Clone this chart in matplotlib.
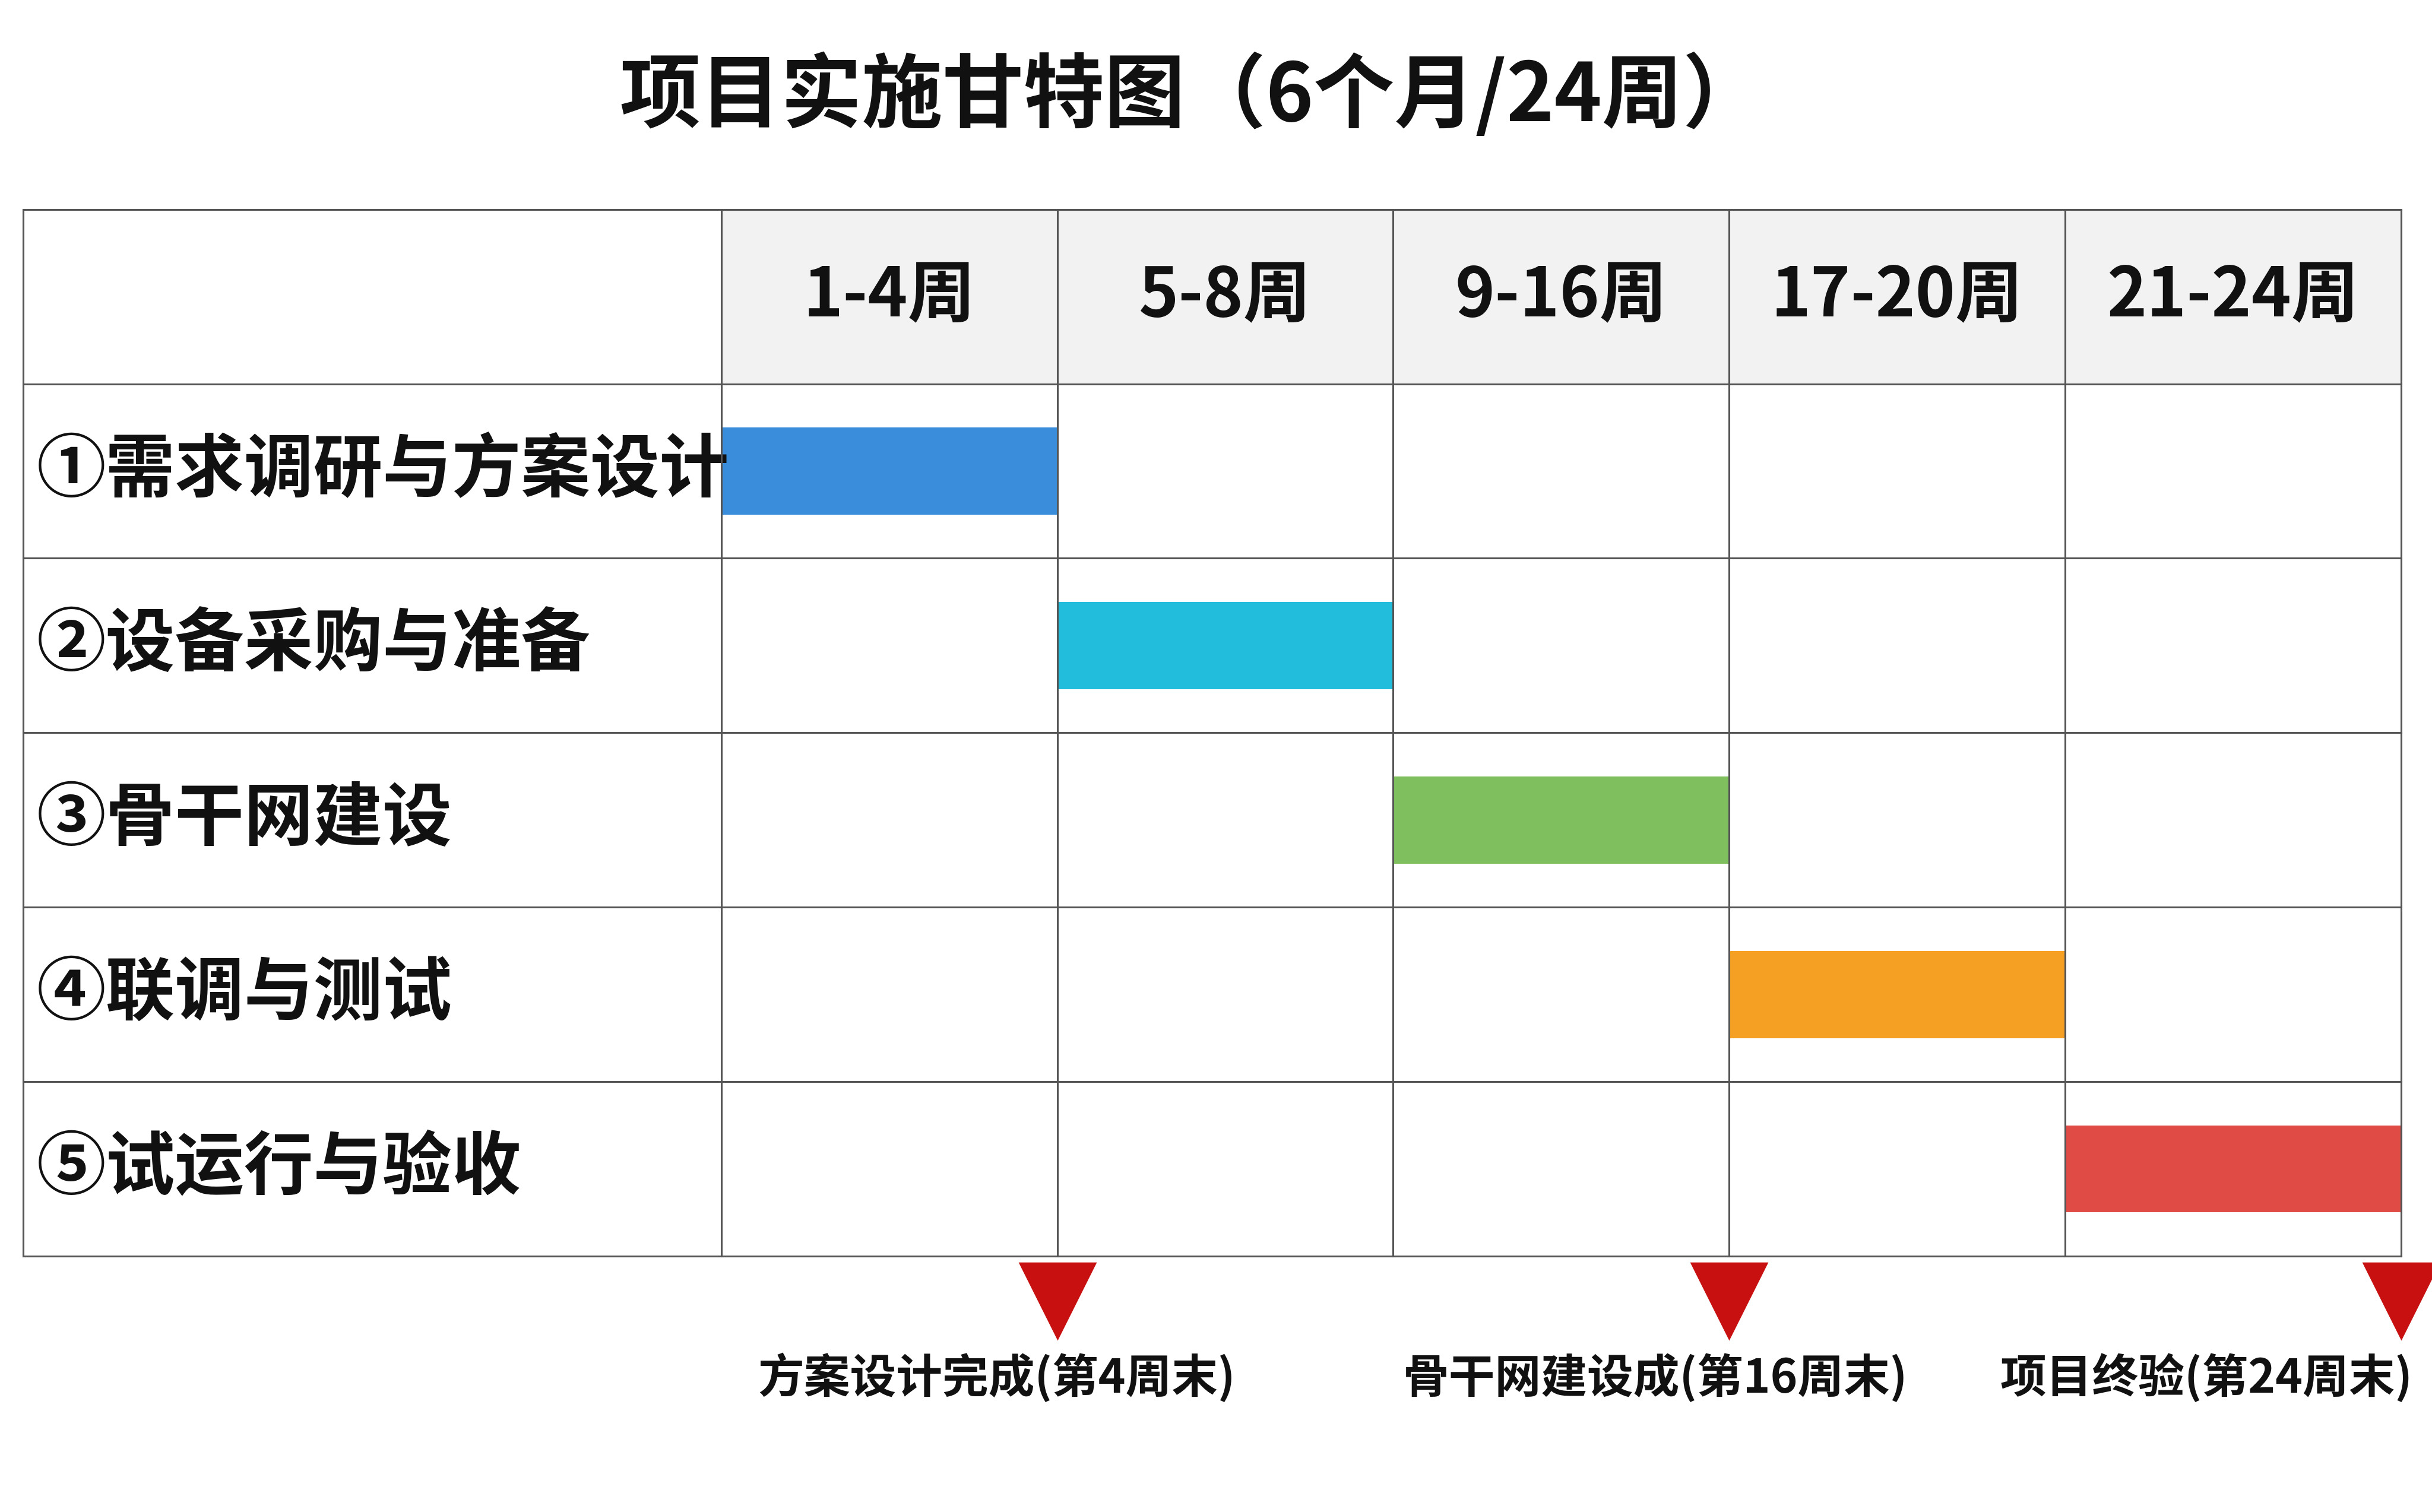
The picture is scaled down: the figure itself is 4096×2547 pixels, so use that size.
import matplotlib
matplotlib.use("Agg")
import matplotlib.pyplot as plt
from matplotlib.patches import Rectangle

plt.rcParams['font.family'] = ['Noto Sans CJK SC', 'DejaVu Sans']

title = "项目实施甘特图（6个月/24周）"
periods = ["1-4周", "5-8周", "9-16周", "17-20周", "21-24周"]
tasks = ["①需求调研与方案设计", "②设备采购与准备", "③骨干网建设", "④联调与测试", "⑤试运行与验收"]
task_start_col = [0, 1, 2, 3, 4]
task_span_cols = [1, 1, 1, 1, 1]
colors = ["#3A8DDA", "#22BCDC", "#7FBF5E", "#F5A023", "#E04B45"]
milestone_cols = [1, 3, 5]
milestone_labels = ["方案设计完成(第4周末)", "骨干网建设成(第16周末)", "项目终验(第24周末)"]
label_offsets = [-0.18, -0.22, -0.58]

W, H = 1568, 975
fig = plt.figure(figsize=(40.96, 25.47), dpi=100)
fig.patch.set_facecolor("white")
left, right, top, bottom = 15, 1548, 135, 810
ax = fig.add_axes([left / W, 1 - bottom / H, (right - left) / W, (bottom - top) / H])
colw = (1548 - 465) / 5
label_w = (465 - 15) / colw
nrows = len(tasks)
ax.set_xlim(-label_w, len(periods))
ax.set_ylim(nrows, -1)
ax.axis("off")

lw = 2.2
for i, p in enumerate(periods):
    ax.add_patch(Rectangle((i, -1), 1, 1, facecolor="#F2F2F2", edgecolor="none"))
    ax.text(i + 0.5, -0.5, p, ha="center", va="center", fontsize=82, fontweight="bold", color="#111111")
for r, (s, sp, c) in enumerate(zip(task_start_col, task_span_cols, colors)):
    ax.barh(r + 0.5, sp, left=s, height=0.5, color=c, edgecolor="none", zorder=2)
    ax.text(-label_w + 0.04, r + 0.5, tasks[r], ha="left", va="center", fontsize=84, fontweight="bold", color="#111111")
for y in range(-1, nrows + 1):
    ax.plot([-label_w, len(periods)], [y, y], color="#555555", lw=lw, zorder=3, clip_on=False)
for x in [-label_w] + list(range(0, len(periods) + 1)):
    ax.plot([x, x], [-1, nrows], color="#555555", lw=lw, zorder=3, clip_on=False)
for mc, ml, off in zip(milestone_cols, milestone_labels, label_offsets):
    ax.scatter([mc], [nrows + 0.26], marker="v", s=9000, color="#C81010", clip_on=False, zorder=4, linewidths=0)
    ax.text(mc + off, nrows + 0.7, ml, ha="center", va="center", fontsize=56, fontweight="bold", color="#111111")

fig.text(0.49, 1 - 62 / H, title, ha="center", va="center", fontsize=98, fontweight="bold", color="#111111")
fig.savefig("out.png", dpi=100, facecolor="white")
